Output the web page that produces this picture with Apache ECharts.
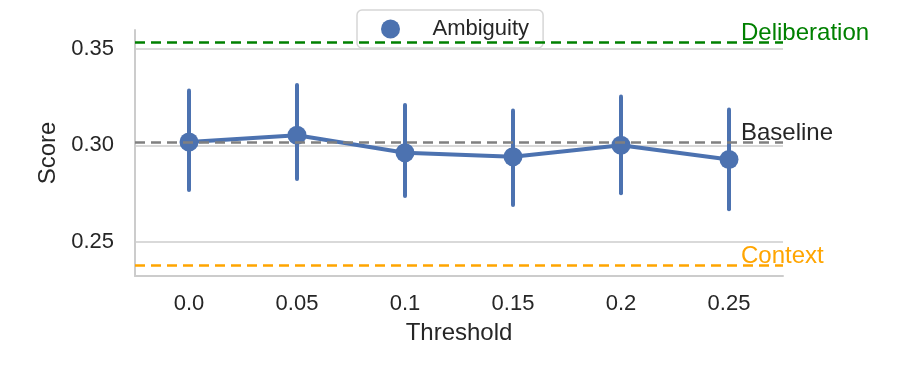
<!DOCTYPE html>
<html>
<head>
<meta charset="utf-8">
<script src="https://cdn.jsdelivr.net/npm/echarts@6/dist/echarts.min.js"></script>
<style>
  html, body { margin: 0; padding: 0; background: #fff; }
  #chart { width: 900px; height: 375px; }
</style>
</head>
<body>
<div id="chart"></div>
<script>
  // data
  const thresholds = ['0.0', '0.05', '0.1', '0.15', '0.2', '0.25']
  const scoreMean = [0.3017, 0.3052, 0.2961, 0.2941, 0.3000, 0.2926]
  const scoreLow = [0.2768, 0.2825, 0.2737, 0.2690, 0.2751, 0.2668]
  const scoreHigh = [0.3284, 0.3313, 0.3209, 0.3180, 0.3253, 0.3185]
  const yTicks = [0.25, 0.30, 0.35]
  const deliberation = 0.3535
  const baseline = 0.3014
  const context = 0.2379

  const FONT = "'Liberation Sans', Arial, sans-serif"
  const TEXT = '#262626'
  const BLUE = '#4c72b0'

  const chart = echarts.init(document.getElementById('chart'))

  // hline with a label sitting just above its right end
  function refLine (value, name, color, labelColor) {
    return {
      yAxis: value,
      lineStyle: { color: color, type: [10, 6], width: 2.5 },
      label: {
        show: true,
        position: 'end',
        formatter: name,
        color: labelColor,
        fontSize: 24,
        fontFamily: FONT,
        offset: [-47, -9]
      }
    }
  }

  const option = {
    animation: false,
    textStyle: { fontFamily: FONT, color: TEXT },
    grid: { left: 135, right: 117, top: 30, bottom: 99 },
    legend: {
      data: ['Ambiguity'],
      left: 357,
      top: 10,
      icon: 'circle',
      itemWidth: 40,
      itemHeight: 19,
      padding: [8, 14, 8, 24],
      borderColor: '#d6d6d6',
      borderWidth: 1.5,
      borderRadius: 5,
      backgroundColor: 'rgba(255,255,255,0.8)',
      textStyle: { fontSize: 22, lineHeight: 22, color: TEXT, fontFamily: FONT, padding: [0, 0, 0, 17] }
    },
    xAxis: {
      type: 'category',
      data: thresholds,
      boundaryGap: true,
      name: 'Threshold',
      nameLocation: 'middle',
      nameGap: 45,
      nameTextStyle: { fontSize: 24, color: TEXT },
      axisLine: { lineStyle: { color: '#cccccc', width: 2 } },
      axisTick: { show: false },
      axisLabel: { fontSize: 22, color: TEXT, margin: 17 },
      splitLine: { show: false }
    },
    yAxis: {
      type: 'value',
      min: 0.2322,
      max: 0.3598,
      name: 'Score',
      nameLocation: 'middle',
      nameGap: 74,
      nameTextStyle: { fontSize: 24, color: TEXT },
      axisLine: { show: true, lineStyle: { color: '#cccccc', width: 2 } },
      axisTick: { show: false, customValues: yTicks },
      axisLabel: {
        fontSize: 22,
        color: TEXT,
        margin: 21,
        customValues: yTicks,
        formatter: v => v.toFixed(2)
      },
      splitLine: { show: true, lineStyle: { color: '#cccccc', width: 1.5 } }
    },
    series: [
      {
        name: 'errorbars',
        type: 'custom',
        z: 2,
        data: thresholds.map((t, i) => [i, scoreLow[i], scoreHigh[i]]),
        renderItem: (params, api) => {
          const a = api.coord([api.value(0), api.value(1)])
          const b = api.coord([api.value(0), api.value(2)])
          return {
            type: 'line',
            shape: { x1: a[0], y1: a[1], x2: b[0], y2: b[1] },
            style: { stroke: BLUE, lineWidth: 4, lineCap: 'round' }
          }
        }
      },
      {
        name: 'Ambiguity',
        type: 'line',
        z: 3,
        data: scoreMean,
        color: BLUE,
        symbol: 'circle',
        symbolSize: 19,
        lineStyle: { width: 4, color: BLUE },
        itemStyle: { color: BLUE }
      },
      {
        name: 'refs',
        type: 'line',
        z: 4,
        data: [],
        markLine: {
          silent: true,
          symbol: 'none',
          precision: 4,
          data: [
            refLine(deliberation, 'Deliberation', '#008000', '#008000'),
            refLine(baseline, 'Baseline', '#808080', TEXT),
            refLine(context, 'Context', '#ffa500', '#ffa500')
          ]
        }
      }
    ]
  }

  chart.setOption(option)
</script>
</body>
</html>
